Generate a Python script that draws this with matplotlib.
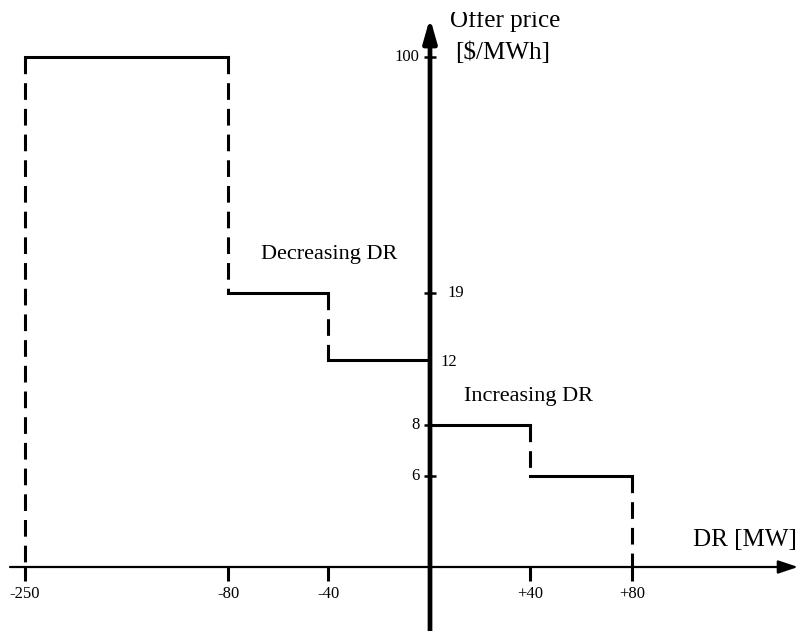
import numpy as np
import matplotlib
matplotlib.use('Agg')
import matplotlib.pyplot as plt
from matplotlib.transforms import Bbox

plt.rcParams['font.family'] = ['Liberation Serif', 'DejaVu Serif']
plt.rcParams['lines.scale_dashes'] = False

# ---------------- data ----------------
dec_edges = [-250, -80, -40, 0]      # decreasing DR bins [MW]
dec_prices = [100, 19, 12]           # offer price [$/MWh]
inc_edges = [0, 40, 80]              # increasing DR bins [MW]
inc_prices = [8, 6]                  # offer price [$/MWh]

x_tick_values = [-250, -80, -40, 40, 80]
x_tick_labels = ['-250', '-80', '-40', '+40', '+80']
y_tick_values = [100, 19, 12, 8, 6]
y_tick_labels = ['100', '19', '12', '8', '6']

# ---------------- schematic (non-linear) axis layout ----------------
X_KNOTS = [-250, -80, -40, 0, 40, 80]
X_PIX = [25, 228, 328, 430, 530, 632]
Y_KNOTS = [0, 6, 8, 12, 19, 100]
Y_PIX = [64, 155, 206, 271, 338, 574]


def make_map(knots, pix):
    k = np.asarray(knots, float)
    p = np.asarray(pix, float)
    s0 = (p[1] - p[0]) / (k[1] - k[0])
    s1 = (p[-1] - p[-2]) / (k[-1] - k[-2])
    big = 1e5
    ke = np.concatenate([[k[0] - big], k, [k[-1] + big]])
    pe = np.concatenate([[p[0] - big * s0], p, [p[-1] + big * s1]])

    def fwd(v):
        return np.interp(np.asarray(v, float), ke, pe)

    def inv(q):
        return np.interp(np.asarray(q, float), pe, ke)
    return fwd, inv


fx, ix = make_map(X_KNOTS, X_PIX)
fy, iy = make_map(Y_KNOTS, Y_PIX)

W, H = 798, 631
fig = plt.figure(figsize=(W / 100, H / 100), dpi=100)
ax = fig.add_axes([0, 0, 1, 1])
ax.set_xscale('function', functions=(fx, ix))
ax.set_yscale('function', functions=(fy, iy))
ax.set_xlim(float(ix(0)), float(ix(W)))
ax.set_ylim(float(iy(0)), float(iy(H)))

lw = 2.2
dash = (0, (12, 6.5))
solid_kw = dict(color='black', lw=lw, solid_capstyle='projecting', zorder=3)
dash_kw = dict(color='black', lw=lw, linestyle=dash, zorder=3)

# decreasing DR steps
for i, p in enumerate(dec_prices):
    ax.plot([dec_edges[i], dec_edges[i + 1]], [p, p], **solid_kw)
ax.plot([dec_edges[0], dec_edges[0]], [dec_prices[0], 0], **dash_kw)
for i in range(1, len(dec_prices)):
    ax.plot([dec_edges[i], dec_edges[i]], [dec_prices[i - 1], dec_prices[i]], **dash_kw)

# increasing DR steps
for i, p in enumerate(inc_prices):
    ax.plot([inc_edges[i], inc_edges[i + 1]], [p, p], **solid_kw)
for i in range(1, len(inc_prices)):
    ax.plot([inc_edges[i], inc_edges[i]], [inc_prices[i - 1], inc_prices[i]], **dash_kw)
ax.plot([inc_edges[-1], inc_edges[-1]], [inc_prices[-1], 0], **dash_kw)

# axes with arrows
for s in ax.spines.values():
    s.set_visible(False)
ax.spines['bottom'].set_position(('data', 0))
ax.spines['left'].set_position(('data', 0))

ax.annotate('', xy=(798 / W, 0), xytext=(10 / W, 0),
            xycoords=ax.get_yaxis_transform(),
            arrowprops=dict(arrowstyle='-|>,head_length=0.6,head_width=0.2',
                            mutation_scale=20, lw=1.6, color='black',
                            shrinkA=0, shrinkB=0), zorder=4)
ax.annotate('', xy=(0, 1 - 18 / H), xytext=(0, -0.01),
            xycoords=ax.get_xaxis_transform(),
            arrowprops=dict(arrowstyle='-|>,head_length=0.7,head_width=0.2',
                            mutation_scale=20, lw=3.4, color='black',
                            shrinkA=0, shrinkB=0), zorder=5)

ax.set_xticks(x_tick_values, x_tick_labels)
ax.tick_params(axis='x', direction='out', length=10, width=2.2, pad=4,
               labelsize=12, color='black')
ax.set_yticks([v for v in y_tick_values if v != 12], [])
ax.tick_params(axis='y', direction='inout', length=8, width=1.8, color='black')
ax.minorticks_off()

# y tick labels (placed left/right of the axis as in the schematic)
ylab_off = {'100': (-8, 0, 'right'), '19': (12.5, 0, 'left'),
            '12': (7.5, -1.5, 'left'), '8': (-7.6, 0, 'right'),
            '6': (-7.6, 0, 'right')}
for v, lab in zip(y_tick_values, y_tick_labels):
    dx, dy, ha = ylab_off[lab]
    ax.annotate(lab, xy=(0, v), xytext=(dx, dy), textcoords='offset points',
                ha=ha, va='center', fontsize=12)

# annotations
ax.text(329 / W, 1 - 254 / H, 'Decreasing DR', transform=ax.transAxes,
        ha='center', va='center', fontsize=16)
ax.text(528 / W, 1 - 397 / H, 'Increasing DR', transform=ax.transAxes,
        ha='center', va='center', fontsize=16)
ax.text(745 / W, 1 - 540 / H, 'DR [MW]', transform=ax.transAxes,
        ha='center', va='center', fontsize=18)
t_offer = ax.text(505 / W, 1 - 27 / H, 'Offer price', transform=ax.transAxes,
                  ha='center', va='baseline', fontsize=18)
# the top of this label is cut off in the original figure
t_offer.set_clip_box(Bbox.from_extents(0, 0, W, H - 12))
t_offer.set_clip_on(True)
ax.text(503 / W, 1 - 59 / H, '[$/MWh]', transform=ax.transAxes,
        ha='center', va='baseline', fontsize=18)

fig.savefig('out.png', dpi=100)
